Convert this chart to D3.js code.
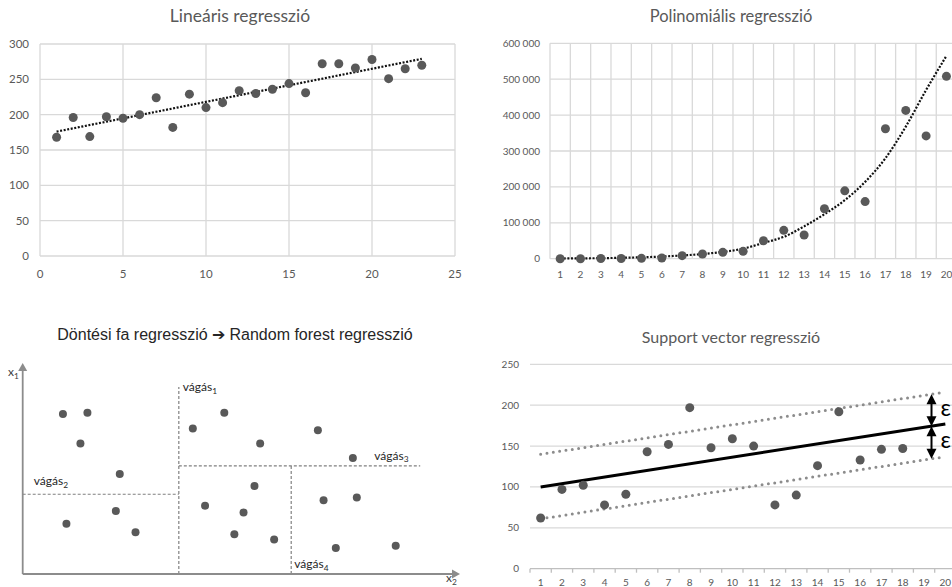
<!DOCTYPE html>
<html><head><meta charset="utf-8">
<script src="https://cdn.jsdelivr.net/npm/d3@7"></script>
<style>body{margin:0;background:#fff}svg{display:block}</style>
</head><body><svg id="c" width="952" height="587"></svg>
<script>
// ---------- DATA ----------
// Panel 1: linear regression
const linX = [1,2,3,4,5,6,7,8,9,10,11,12,13,14,15,16,17,18,19,20,21,22,23];
const linY = [168,196,169,197,195,200,224,182,229,210,217,234,230,236,244,231,272,272,266,278,251,265,270];
const linTrendX = [1,23];
const linTrendY = [176,279];
const linXTicks = [0,5,10,15,20,25];
const linYTicks = [0,50,100,150,200,250,300];
// Panel 2: polynomial regression
const polyCats = [1,2,3,4,5,6,7,8,9,10,11,12,13,14,15,16,17,18,19,20];
const polyY = [0,0,500,500,1000,2000,8400,13000,17800,20500,50000,79000,66000,139000,189000,159000,362000,413000,342000,508000];
const polyTrend = [500,1000,1500,2500,4000,6000,9000,13000,19000,28000,44000,61000,90000,124000,163000,214000,280000,368000,470000,565000];
const polyYTicks = [0,100000,200000,300000,400000,500000,600000];
// Panel 3: decision tree (abstract feature space, 0..100)
const treePtsX = [9.2,14.8,13.2,22.2,21.3,10.0,25.8,38.9,46.1,41.7,48.4,54.3,67.5,75.5,53.0,50.5,57.5,68.8,76.4,71.6,85.3];
const treePtsY = [75.8,76.4,61.9,47.4,29.9,23.8,19.8,68.9,76.4,32.4,18.8,61.8,68.1,55.0,41.7,29.2,16.4,34.9,36.2,12.3,13.4];
const cutNames = ["1","2","3","4"];
const cutX1 = [35.7, 0, 35.7, 61.4];
const cutY1 = [0, 37.8, 51.2, 0];
const cutX2 = [35.7, 35.7, 90.9, 61.4];
const cutY2 = [88.6, 37.8, 51.2, 51.2];
// Panel 4: support vector regression
const svrCats = [1,2,3,4,5,6,7,8,9,10,11,12,13,14,15,16,17,18,19,20];
const svrX = [1,2,3,4,5,6,7,8,9,10,11,12,13,14,15,16,17,18];
const svrY = [62,97,102,78,91,143,152,197,148,159,150,78,90,126,192,133,146,147];
const svrLineX = [1,20];
const svrMid = [100,177];
const svrUpper = [140,216];
const svrLower = [61,137];
const svrYTicks = [0,50,100,150,200,250];
const epsX = 19.35;

// ---------- DRAW ----------
const svg = d3.select("#c");
const GRID = "#d9d9d9", LBL = "#595959", DOT = "#595959";
const calibri = "Lato, 'Open Sans', sans-serif";
const arial = "'Liberation Sans', Arial, sans-serif";
const lerp = (xs, ys, x) => ys[0] + (ys[1]-ys[0])*(x-xs[0])/(xs[1]-xs[0]);

// ===== Panel 1 =====
{
  const x = d3.scaleLinear().domain([0,25]).range([40,455]);
  const y = d3.scaleLinear().domain([0,300]).range([256,44]);
  const g = svg.append("g");
  g.selectAll(".gx").data(linXTicks).join("line")
    .attr("x1",d=>x(d)).attr("x2",d=>x(d)).attr("y1",y(0)).attr("y2",y(300))
    .attr("stroke",GRID).attr("stroke-width",1.3);
  g.selectAll(".gy").data(linYTicks).join("line")
    .attr("x1",x(0)).attr("x2",x(25)).attr("y1",d=>y(d)).attr("y2",d=>y(d))
    .attr("stroke",GRID).attr("stroke-width",1.3);
  g.selectAll(".ly").data(linYTicks).join("text")
    .attr("x",29).attr("y",d=>y(d)).attr("dy","0.35em").attr("text-anchor","end")
    .attr("font-family",calibri).attr("font-size",11.5).attr("fill",LBL).text(d=>d);
  g.selectAll(".lx").data(linXTicks).join("text")
    .attr("x",d=>x(d)).attr("y",278).attr("text-anchor","middle")
    .attr("font-family",calibri).attr("font-size",11.5).attr("fill",LBL).text(d=>d);
  g.append("path").datum(linTrendX.map((d,i)=>[d,linTrendY[i]]))
    .attr("d",d3.line().x(d=>x(d[0])).y(d=>y(d[1])))
    .attr("fill","none").attr("stroke","#111").attr("stroke-width",2.2).attr("stroke-dasharray","2,1.6");
  g.selectAll(".pt").data(linX).join("circle")
    .attr("cx",d=>x(d)).attr("cy",(d,i)=>y(linY[i])).attr("r",4.5).attr("fill",DOT);
  g.append("text").attr("x",240).attr("y",22).attr("text-anchor","middle")
    .attr("font-family",calibri).attr("font-size",17.5).attr("fill",LBL).text("Lineáris regresszió");
}

// ===== Panel 2 =====
{
  const x = d3.scaleLinear().domain([0.5,20.5]).range([550,956.6]);
  const y = d3.scaleLinear().domain([0,600000]).range([258.7,43.3]);
  const fmt = d3.formatLocale({decimal:",",thousands:" ",grouping:[3],currency:["",""]}).format(",");
  const g = svg.append("g");
  const bounds = polyCats.map(c=>c-0.5).concat([polyCats[polyCats.length-1]+0.5]);
  g.selectAll(".gx").data(bounds).join("line")
    .attr("x1",d=>x(d)).attr("x2",d=>x(d)).attr("y1",y(0)).attr("y2",y(600000))
    .attr("stroke",GRID).attr("stroke-width",1.3);
  g.selectAll(".gy").data(polyYTicks).join("line")
    .attr("x1",x(0.5)).attr("x2",x(20.5)).attr("y1",d=>y(d)).attr("y2",d=>y(d))
    .attr("stroke",GRID).attr("stroke-width",1.3);
  g.selectAll(".ly").data(polyYTicks).join("text")
    .attr("x",540).attr("y",d=>y(d)).attr("dy","0.35em").attr("text-anchor","end")
    .attr("font-family",calibri).attr("font-size",10).attr("fill",LBL).text(d=>fmt(d));
  g.selectAll(".lx").data(polyCats).join("text")
    .attr("x",d=>x(d)).attr("y",278).attr("text-anchor","middle")
    .attr("font-family",calibri).attr("font-size",10).attr("fill",LBL).text(d=>d);
  g.append("path").datum(polyCats.map((c,i)=>[c,polyTrend[i]]))
    .attr("d",d3.line().x(d=>x(d[0])).y(d=>y(d[1])).curve(d3.curveMonotoneX))
    .attr("fill","none").attr("stroke","#111").attr("stroke-width",2.2).attr("stroke-dasharray","2,1.6");
  g.selectAll(".pt").data(polyCats).join("circle")
    .attr("cx",d=>x(d)).attr("cy",(d,i)=>y(polyY[i])).attr("r",4.5).attr("fill",DOT);
  g.append("text").attr("x",731).attr("y",22).attr("text-anchor","middle")
    .attr("font-family",calibri).attr("font-size",16.5).attr("fill",LBL).text("Polinomiális regresszió");
}

// ===== Panel 3 =====
{
  const x = d3.scaleLinear().domain([0,100]).range([22.7,460]);
  const y = d3.scaleLinear().domain([0,100]).range([574,363]);
  const g = svg.append("g");
  const AX = "#8c8c8c";
  g.selectAll(".cut").data(cutNames).join("line")
    .attr("x1",(d,i)=>x(cutX1[i])).attr("y1",(d,i)=>y(cutY1[i]))
    .attr("x2",(d,i)=>x(cutX2[i])).attr("y2",(d,i)=>y(cutY2[i]))
    .attr("stroke","#808080").attr("stroke-width",1.2).attr("stroke-dasharray","3,2");
  g.append("line").attr("x1",x(0)).attr("y1",y(0)).attr("x2",x(0)).attr("y2",y(100)+6)
    .attr("stroke",AX).attr("stroke-width",1.8);
  g.append("line").attr("x1",x(0)).attr("y1",y(0)).attr("x2",x(100)-7).attr("y2",y(0))
    .attr("stroke",AX).attr("stroke-width",1.8);
  g.append("path").attr("d",`M${x(0)-4.5},${y(100)+8}L${x(0)},${y(100)}L${x(0)+4.5},${y(100)+8}Z`).attr("fill",AX);
  g.append("path").attr("d",`M${x(100)-8},${y(0)-4.5}L${x(100)},${y(0)}L${x(100)-8},${y(0)+4.5}Z`).attr("fill",AX);
  const sub = (sel, base, s) => {
    sel.append("tspan").text(base);
    sel.append("tspan").attr("font-size","0.7em").attr("dy","0.3em").text(s);
  };
  sub(g.append("text").attr("x",8).attr("y",376).attr("font-family",calibri).attr("font-size",12).attr("fill","#404040"),"x","1");
  sub(g.append("text").attr("x",446).attr("y",582).attr("font-family",calibri).attr("font-size",12).attr("fill","#404040"),"x","2");
  const labPos = [[x(cutX1[0])+4, y(cutY2[0])+4],[x(0)+11, y(cutY1[1])-9],[x(cutX2[2])-46, y(cutY1[2])-6],[x(cutX1[3])+3, y(0)-6]];
  cutNames.forEach((n,i)=>{
    sub(g.append("text").attr("x",labPos[i][0]).attr("y",labPos[i][1]).attr("font-family",calibri)
      .attr("font-size",12).attr("fill","#262626"),"vágás",n);
  });
  g.selectAll(".pt").data(treePtsX).join("circle")
    .attr("cx",d=>x(d)).attr("cy",(d,i)=>y(treePtsY[i])).attr("r",4).attr("fill",DOT);
  g.append("text").attr("x",235).attr("y",340).attr("text-anchor","middle")
    .attr("font-family",arial).attr("font-size",16).attr("fill","#262626")
    .text("Döntési fa regresszió ➔ Random forest regresszió");
}

// ===== Panel 4 =====
{
  const x = d3.scaleLinear().domain([0.5,20.5]).range([530,956]);
  const y = d3.scaleLinear().domain([0,250]).range([568.7,364.3]);
  const g = svg.append("g");
  g.selectAll(".gy").data(svrYTicks.filter(d=>d>0)).join("line")
    .attr("x1",x(0.5)).attr("x2",x(20.5)).attr("y1",d=>y(d)).attr("y2",d=>y(d))
    .attr("stroke",GRID).attr("stroke-width",1.3);
  g.append("line").attr("x1",x(0.5)).attr("x2",x(20.5)).attr("y1",y(0)).attr("y2",y(0))
    .attr("stroke","#bfbfbf").attr("stroke-width",1.3);
  const bounds = svrCats.map(c=>c-0.5).concat([20.5]);
  g.selectAll(".tk").data(bounds).join("line")
    .attr("x1",d=>x(d)).attr("x2",d=>x(d)).attr("y1",y(0)).attr("y2",y(0)+4)
    .attr("stroke","#bfbfbf").attr("stroke-width",1.3);
  g.selectAll(".ly").data(svrYTicks).join("text")
    .attr("x",519).attr("y",d=>y(d)).attr("dy","0.35em").attr("text-anchor","end")
    .attr("font-family",calibri).attr("font-size",10).attr("fill",LBL).text(d=>d);
  g.selectAll(".lx").data(svrCats).join("text")
    .attr("x",d=>x(d)).attr("y",586).attr("text-anchor","middle")
    .attr("font-family",calibri).attr("font-size",10).attr("fill",LBL).text(d=>d);
  const ln = d3.line().x(d=>x(d[0])).y(d=>y(d[1]));
  [svrUpper, svrLower].forEach(arr=>{
    g.append("path").datum(svrLineX.map((c,i)=>[c,arr[i]])).attr("d",ln)
      .attr("fill","none").attr("stroke","#8c8c8c").attr("stroke-width",3)
      .attr("stroke-linecap","round").attr("stroke-dasharray","0,6.4");
  });
  g.append("path").datum(svrLineX.map((c,i)=>[c,svrMid[i]])).attr("d",ln)
    .attr("fill","none").attr("stroke","#000").attr("stroke-width",3);
  g.selectAll(".pt").data(svrX).join("circle")
    .attr("cx",d=>x(d)).attr("cy",(d,i)=>y(svrY[i])).attr("r",4.5).attr("fill",DOT);
  const ax = x(epsX);
  const yu = y(lerp(svrLineX,svrUpper,epsX)), ym = y(lerp(svrLineX,svrMid,epsX)), yl = y(lerp(svrLineX,svrLower,epsX));
  const dbl = (ya, yb) => {
    g.append("line").attr("x1",ax).attr("x2",ax).attr("y1",ya+8).attr("y2",yb-8).attr("stroke","#000").attr("stroke-width",2);
    g.append("path").attr("d",`M${ax-5},${ya+10}L${ax},${ya}L${ax+5},${ya+10}Z`).attr("fill","#000");
    g.append("path").attr("d",`M${ax-5},${yb-10}L${ax},${yb}L${ax+5},${yb-10}Z`).attr("fill","#000");
  };
  dbl(yu, ym); dbl(ym, yl);
  g.append("text").attr("x",ax+9).attr("y",(yu+ym)/2+6).attr("font-family",calibri).attr("font-size",23).attr("fill","#000").text("ε");
  g.append("text").attr("x",ax+9).attr("y",(ym+yl)/2+6).attr("font-family",calibri).attr("font-size",23).attr("fill","#000").text("ε");
  g.append("text").attr("x",731).attr("y",343).attr("text-anchor","middle")
    .attr("font-family",calibri).attr("font-size",16).attr("fill",LBL).text("Support vector regresszió");
}
</script></body></html>
